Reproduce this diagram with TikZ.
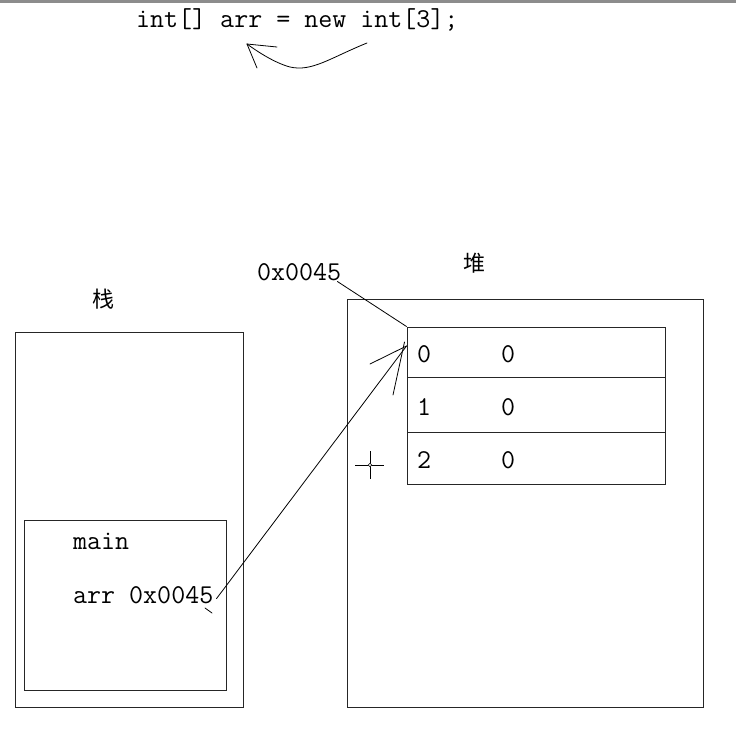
\documentclass[tikz,border=0pt]{standalone}
\usepackage{fontspec}
\newfontfamily\cjk{Noto Sans CJK SC}
\begin{document}
\begin{tikzpicture}[x=1pt,y=-1pt,
    mono/.style={font=\ttfamily\fontsize{27.2}{29}\selectfont, inner sep=1pt, anchor=base west},
    hanzi/.style={font=\cjk\fontsize{22}{24}\selectfont, inner sep=0pt},
    box/.style={draw=black!85, line width=1pt, inner sep=0pt, rectangle},
    pen/.style={line width=0.8pt, line cap=round}]
  \useasboundingbox (0,0) rectangle (736,737);
  \fill[gray!90] (0,0) rectangle (736,2.5);

  % code line with hand-drawn arrow
  \node[mono] (code) at (135,27) {int[] arr = new int[3];};
  \draw[pen] (367,43) .. controls (330,58) and (312,72) .. (290,67)
                      .. controls (275,63) and (258,52) .. (247,44);
  \draw[pen] (247,44) -- (277,47);
  \draw[pen] (247,44) -- (257,68);

  % stack
  \node[hanzi] (stacklbl) at (103,299) {栈};
  \node[box, minimum width=228, minimum height=375] (stack) at (129,519.5) {};
  \node[box, minimum width=202, minimum height=170] (mainfr) at (125,605) {};
  \node[mono] (mainlbl) at (72,549) {main};
  \node[mono] (arrvar) at (72,603) {arr 0x0045};
  \draw[pen] (205,608) -- (212,613);

  % heap
  \node[hanzi] (heaplbl) at (474,263) {堆};
  \node[box, minimum width=356, minimum height=408] (heap) at (525,503) {};
  \node[box, minimum width=258, minimum height=50] (row0) at (536,352) {};
  \node[box, minimum width=258, minimum height=55] (row1) at (536,404.5) {};
  \node[box, minimum width=258, minimum height=52] (row2) at (536,458) {};
  \foreach \r/\y in {0/362,1/415,2/468} {
    \node[mono] (idx\r) at (416,\y) {\r};
    \node[mono] (val\r) at (500,\y) {0};
  }
  \node[mono] (addr) at (256,280) {0x0045};

  % pointers
  \draw[pen] ([xshift=-5pt]addr.south east) -- (row0.north west);
  \coordinate (tip) at ([yshift=6pt]row0.west);
  \draw[pen] ([xshift=2pt,yshift=-4pt]arrvar.east) -- (tip);
  \draw[pen] (tip) -- (370,364);
  \draw[pen] ([xshift=-2pt,yshift=4pt]tip) -- (393,395);

  % mouse cursor
  \draw[line width=0.8pt] (355,465) -- (384,465) (370,451) -- (370,479);
  \filldraw[fill=white, line width=0.6pt] (370,465) circle (1.8);
\end{tikzpicture}
\end{document}
